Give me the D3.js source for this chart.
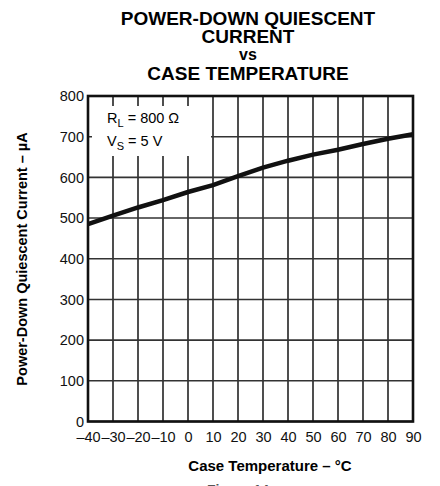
<!DOCTYPE html>
<html><head><meta charset="utf-8">
<script src="https://cdn.jsdelivr.net/npm/d3@7"></script>
<style>body{margin:0;background:#fff}svg{display:block}</style>
</head><body>
<script>
const temps = [-40,-30,-20,-10,0,10,20,30,40,50,60,70,80,90];
const current = [485,506,526,544,564,581,603,624,641,656,668,682,695,706];
const xTickValues = [-40,-30,-20,-10,0,10,20,30,40,50,60,70,80,90];
const yTickValues = [0,100,200,300,400,500,600,700,800];
const titleLines = ["POWER-DOWN QUIESCENT","CURRENT","vs","CASE TEMPERATURE"];

const W=440,H=486;
const svg=d3.select("body").append("svg").attr("width",W).attr("height",H);
const L=88,R=413,T=96,B=421.5;
const x=d3.scaleLinear().domain([-40,90]).range([L,R]);
const y=d3.scaleLinear().domain([0,800]).range([B,T]);
const font="Liberation Sans, Arial, Helvetica, sans-serif";

// title
const tY=[25,43,60,80];
titleLines.forEach((t,i)=>{
  svg.append("text").attr("x",248).attr("y",tY[i]).attr("text-anchor","middle")
    .attr("font-family",font).attr("font-weight","bold").attr("font-size",i===2?16:19)
    .text(t);
});

// grid
const g=svg.append("g");
g.selectAll("line.v").data(xTickValues).enter().append("line")
  .attr("x1",d=>x(d)).attr("x2",d=>x(d)).attr("y1",T).attr("y2",B)
  .attr("stroke","#222").attr("stroke-width",1.6);
g.selectAll("line.h").data(yTickValues).enter().append("line")
  .attr("x1",L).attr("x2",R).attr("y1",d=>y(d)).attr("y2",d=>y(d))
  .attr("stroke","#333").attr("stroke-width",1.6);

// legend box
svg.append("rect").attr("x",92).attr("y",106).attr("width",119).attr("height",50).attr("fill","#fff");
const lg=svg.append("g").attr("font-family",font).attr("font-size",14.5);
const t1=lg.append("text").attr("x",107).attr("y",123);
t1.append("tspan").text("R");
t1.append("tspan").attr("font-size",11).attr("dy",4).text("L");
t1.append("tspan").attr("dy",-4).text(" = 800 Ω");
const t2=lg.append("text").attr("x",107).attr("y",146);
t2.append("tspan").text("V");
t2.append("tspan").attr("font-size",11).attr("dy",4).text("S");
t2.append("tspan").attr("dy",-4).text(" = 5 V");

// frame
svg.append("rect").attr("x",L).attr("y",T).attr("width",R-L).attr("height",B-T)
  .attr("fill","none").attr("stroke","#111").attr("stroke-width",2.6);

// curve
const line=d3.line().x((d,i)=>x(temps[i])).y(d=>y(d));
svg.append("path").datum(current).attr("d",line).attr("fill","none")
  .attr("stroke","#111").attr("stroke-width",4.5).attr("stroke-linecap","butt");

// axes labels
const xAxis=d3.axisBottom(x).tickValues(xTickValues).tickSize(0).tickPadding(0)
  .tickFormat(d=>d<0?"–"+Math.abs(d):String(d));
const xa=svg.append("g").attr("transform",`translate(0,${B+7})`).call(xAxis);
xa.select(".domain").remove();
xa.selectAll("text").attr("font-family",font).attr("font-size",14.5).attr("fill","#111").attr("dy","0.9em");

const yAxis=d3.axisLeft(y).tickValues(yTickValues).tickSize(0).tickPadding(0);
const ya=svg.append("g").attr("transform",`translate(${L-4},0)`).call(yAxis);
ya.select(".domain").remove();
ya.selectAll("text").attr("font-family",font).attr("font-size",14.5).attr("fill","#111");

svg.append("text").attr("x",270).attr("y",471).attr("text-anchor","middle")
  .attr("font-family",font).attr("font-weight","bold").attr("font-size",15)
  .text("Case Temperature – °C");
svg.append("text").attr("transform",`translate(27,259) rotate(-90)`).attr("text-anchor","middle")
  .attr("font-family",font).attr("font-weight","bold").attr("font-size",14.5)
  .text("Power-Down Quiescent Current – µA");

svg.append("text").attr("x",238).attr("y",495).attr("text-anchor","middle")
  .attr("font-family",font).attr("font-weight","bold").attr("font-size",14).attr("fill","#555")
  .text("Figure 14");
</script>
</body></html>
